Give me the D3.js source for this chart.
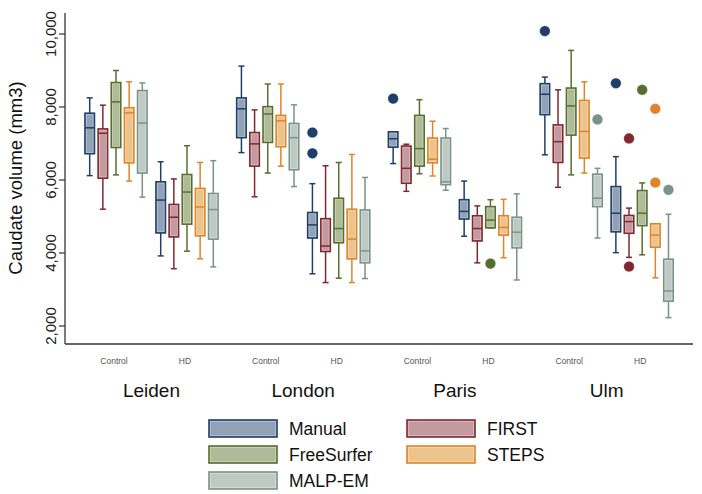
<!DOCTYPE html>
<html>
<head>
<meta charset="utf-8">
<script src="https://cdn.jsdelivr.net/npm/d3@7"></script>
<style>
  body { margin: 0; background: #fff; }
  text { font-family: "Liberation Sans", Arial, sans-serif; }
</style>
</head>
<body>
<div id="chart"></div>
<script>
'use strict';

var sites = ["Leiden", "London", "Paris", "Ulm"];
var groups = ["Control", "HD"];
var methods = ["Manual", "FIRST", "FreeSurfer", "STEPS", "MALP-EM"];
var yTicks = [2000, 4000, 6000, 8000, 10000];

// [low whisker, q1, median, q3, high whisker], order: Leiden C, Leiden HD, London C, London HD, Paris C, Paris HD, Ulm C, Ulm HD
var manual = [
    [6120, 6720, 7430, 7830, 8250], [3920, 4550, 5450, 5950, 6500],
    [6750, 7160, 7950, 8250, 9120], [3430, 4410, 4770, 5110, 5900],
    [6450, 6900, 7130, 7320, 7320], [4460, 4930, 5140, 5460, 5970],
    [6690, 7790, 8350, 8640, 8820], [4010, 4580, 5090, 5820, 6640]
];
var first = [
    [5200, 6050, 7280, 7400, 8050], [3570, 4440, 4980, 5330, 6030],
    [5540, 6380, 6990, 7300, 7920], [3190, 4040, 4190, 4940, 6390],
    [5690, 5910, 6320, 6930, 6980], [3730, 4330, 4670, 5020, 5290],
    [5800, 6480, 7050, 7510, 8470], [3880, 4540, 4860, 5030, 5230]
];
var freeSurfer = [
    [6140, 6890, 8140, 8670, 9000], [4050, 4790, 5670, 6150, 6940],
    [6190, 7030, 7810, 8010, 8630], [3310, 4280, 4670, 5500, 6480],
    [6170, 6380, 6860, 7770, 8200], [4690, 4690, 4900, 5270, 5460],
    [6140, 7230, 8030, 8520, 9550], [3950, 4750, 5090, 5710, 5920]
];
var steps = [
    [5970, 6470, 7840, 7980, 8690], [3840, 4470, 5260, 5770, 6480],
    [6380, 6910, 7620, 7770, 8630], [3190, 3840, 4380, 5200, 6700],
    [6110, 6470, 6570, 7150, 7610], [3870, 4490, 4700, 5020, 5470],
    [6190, 6600, 7330, 8180, 8690], [3320, 4160, 4490, 4800, 4800]
];
var malpEm = [
    [5530, 6190, 7560, 8450, 8660], [3620, 4380, 5190, 5630, 6530],
    [5820, 6280, 7160, 7550, 8060], [3300, 3730, 4060, 5180, 6070],
    [5720, 5870, 5950, 7150, 7410], [3260, 4140, 4570, 4980, 5620],
    [4410, 5270, 5500, 6160, 6320], [2230, 2680, 2960, 3830, 5060]
];
// [site, group, method, value]
var outliers = [
    ["London", "HD", "Manual", 7300], ["London", "HD", "Manual", 6730],
    ["Paris", "Control", "Manual", 8230], ["Paris", "HD", "FreeSurfer", 3710],
    ["Ulm", "Control", "Manual", 10080], ["Ulm", "Control", "MALP-EM", 7660],
    ["Ulm", "HD", "Manual", 8650], ["Ulm", "HD", "FIRST", 7140],
    ["Ulm", "HD", "FIRST", 3630], ["Ulm", "HD", "FreeSurfer", 8470],
    ["Ulm", "HD", "STEPS", 7950], ["Ulm", "HD", "STEPS", 5930],
    ["Ulm", "HD", "MALP-EM", 5730]
];

var stats = { "Manual": manual, "FIRST": first, "FreeSurfer": freeSurfer, "STEPS": steps, "MALP-EM": malpEm };
var strokeColor = { "Manual": "#1f3f69", "FIRST": "#80282f", "FreeSurfer": "#566f2f", "STEPS": "#df8428", "MALP-EM": "#7a938a" };
var fillColor = { "Manual": "#91a2b7", "FIRST": "#c29a9f", "FreeSurfer": "#afbb98", "STEPS": "#ecc48b", "MALP-EM": "#bec9c4" };

var width = 702, height = 494;
var svg = d3.select("#chart").append("svg")
    .attr("width", width)
    .attr("height", height);

var y = d3.scaleLinear().domain([2000, 10000]).range([326, 34]);
var xSite = d3.scaleBand().domain(sites).range([75.6, 682.5]);
var xGroup = d3.scalePoint().domain(groups).range([40.4, 111.4]);
var xMethod = d3.scalePoint().domain(methods).range([-26.3, 26.3]);
var boxW = 9.5, capW = 6;

function cx(site, group, method) {
    return xSite(site) + xGroup(group) + xMethod(method);
}

// axes
var axisX0 = 65, axisY1 = 344;
svg.append("line")
    .attr("x1", axisX0).attr("x2", axisX0)
    .attr("y1", 13).attr("y2", axisY1)
    .attr("stroke", "#333").attr("stroke-width", 1.3);
svg.append("line")
    .attr("x1", axisX0).attr("x2", 693)
    .attr("y1", axisY1).attr("y2", axisY1)
    .attr("stroke", "#333").attr("stroke-width", 1.3);

var ticks = svg.append("g").selectAll("g")
    .data(yTicks)
    .enter().append("g");
ticks.append("line")
    .attr("x1", 59).attr("x2", axisX0)
    .attr("y1", function(d) { return y(d); })
    .attr("y2", function(d) { return y(d); })
    .attr("stroke", "#333").attr("stroke-width", 1.2);
ticks.append("text")
    .attr("transform", function(d) { return "translate(56," + y(d) + ") rotate(-90)"; })
    .attr("text-anchor", "middle")
    .attr("font-size", "15px")
    .attr("fill", "#222")
    .text(function(d) { return d3.format(",")(d); });

svg.append("text")
    .attr("transform", "translate(22,178) rotate(-90)")
    .attr("text-anchor", "middle")
    .attr("font-size", "18.5px")
    .attr("fill", "#111")
    .text("Caudate volume (mm3)");

// group and site labels
sites.forEach(function(site) {
    groups.forEach(function(group) {
        svg.append("text")
            .attr("x", xSite(site) + xGroup(group) - 2)
            .attr("y", 364)
            .attr("text-anchor", "middle")
            .attr("font-size", "8.5px")
            .attr("fill", "#555")
            .text(group);
    });
    svg.append("text")
        .attr("x", xSite(site) + xSite.bandwidth() / 2)
        .attr("y", 397)
        .attr("text-anchor", "middle")
        .attr("font-size", "19px")
        .attr("fill", "#111")
        .text(site);
});

// boxes
var boxes = [];
methods.forEach(function(m) {
    stats[m].forEach(function(s, i) {
        boxes.push({ site: sites[Math.floor(i / 2)], group: groups[i % 2], method: m, s: s });
    });
});

var box = svg.append("g").selectAll("g.box")
    .data(boxes)
    .enter().append("g")
    .attr("class", "box");

box.append("line")
    .attr("x1", function(d) { return cx(d.site, d.group, d.method); })
    .attr("x2", function(d) { return cx(d.site, d.group, d.method); })
    .attr("y1", function(d) { return y(d.s[0]); })
    .attr("y2", function(d) { return y(d.s[4]); })
    .attr("stroke", function(d) { return strokeColor[d.method]; })
    .attr("stroke-width", 1.5);

[0, 4].forEach(function(k) {
    box.append("line")
        .attr("x1", function(d) { return cx(d.site, d.group, d.method) - capW / 2; })
        .attr("x2", function(d) { return cx(d.site, d.group, d.method) + capW / 2; })
        .attr("y1", function(d) { return y(d.s[k]); })
        .attr("y2", function(d) { return y(d.s[k]); })
        .attr("stroke", function(d) { return strokeColor[d.method]; })
        .attr("stroke-width", 1.5);
});

box.append("rect")
    .attr("x", function(d) { return cx(d.site, d.group, d.method) - boxW / 2; })
    .attr("y", function(d) { return y(d.s[3]); })
    .attr("width", boxW)
    .attr("height", function(d) { return y(d.s[1]) - y(d.s[3]); })
    .attr("fill", function(d) { return fillColor[d.method]; })
    .attr("stroke", function(d) { return strokeColor[d.method]; })
    .attr("stroke-width", 1.6);

box.append("rect")
    .attr("x", function(d) { return cx(d.site, d.group, d.method) - boxW / 2 + 1.3; })
    .attr("y", function(d) { return y(d.s[3]) + 1.3; })
    .attr("width", boxW - 2.6)
    .attr("height", function(d) { return Math.max(0, y(d.s[1]) - y(d.s[3]) - 2.6); })
    .attr("fill", "none")
    .attr("stroke", "#fff")
    .attr("stroke-opacity", 0.45)
    .attr("stroke-width", 0.7);

box.append("line")
    .attr("x1", function(d) { return cx(d.site, d.group, d.method) - boxW / 2; })
    .attr("x2", function(d) { return cx(d.site, d.group, d.method) + boxW / 2; })
    .attr("y1", function(d) { return y(d.s[2]); })
    .attr("y2", function(d) { return y(d.s[2]); })
    .attr("stroke", function(d) { return strokeColor[d.method]; })
    .attr("stroke-width", 1.5);

svg.append("g").selectAll("circle")
    .data(outliers)
    .enter().append("circle")
    .attr("cx", function(d) { return cx(d[0], d[1], d[2]); })
    .attr("cy", function(d) { return y(d[3]); })
    .attr("r", 5.3)
    .attr("fill", function(d) { return strokeColor[d[2]]; })
    .attr("stroke", "#fff")
    .attr("stroke-opacity", 0.5)
    .attr("stroke-width", 0.6);

// legend
var legendItems = [
    { m: "Manual", col: 0, row: 0 }, { m: "FIRST", col: 1, row: 0 },
    { m: "FreeSurfer", col: 0, row: 1 }, { m: "STEPS", col: 1, row: 1 },
    { m: "MALP-EM", col: 0, row: 2 }
];
var legend = svg.append("g").selectAll("g")
    .data(legendItems)
    .enter().append("g")
    .attr("transform", function(d) { return "translate(" + (209 + d.col * 198) + "," + (420 + d.row * 26) + ")"; });
legend.append("rect")
    .attr("width", 68).attr("height", 17)
    .attr("fill", function(d) { return fillColor[d.m]; })
    .attr("stroke", function(d) { return strokeColor[d.m]; })
    .attr("stroke-width", 1.6);
legend.append("rect")
    .attr("x", 1.3).attr("y", 1.3)
    .attr("width", 65.4).attr("height", 14.4)
    .attr("fill", "none")
    .attr("stroke", "#fff")
    .attr("stroke-opacity", 0.45)
    .attr("stroke-width", 0.7);
legend.append("text")
    .attr("x", 80)
    .attr("y", 15)
    .attr("font-size", "17.5px")
    .attr("fill", "#111")
    .text(function(d) { return d.m; });
</script>
</body>
</html>
